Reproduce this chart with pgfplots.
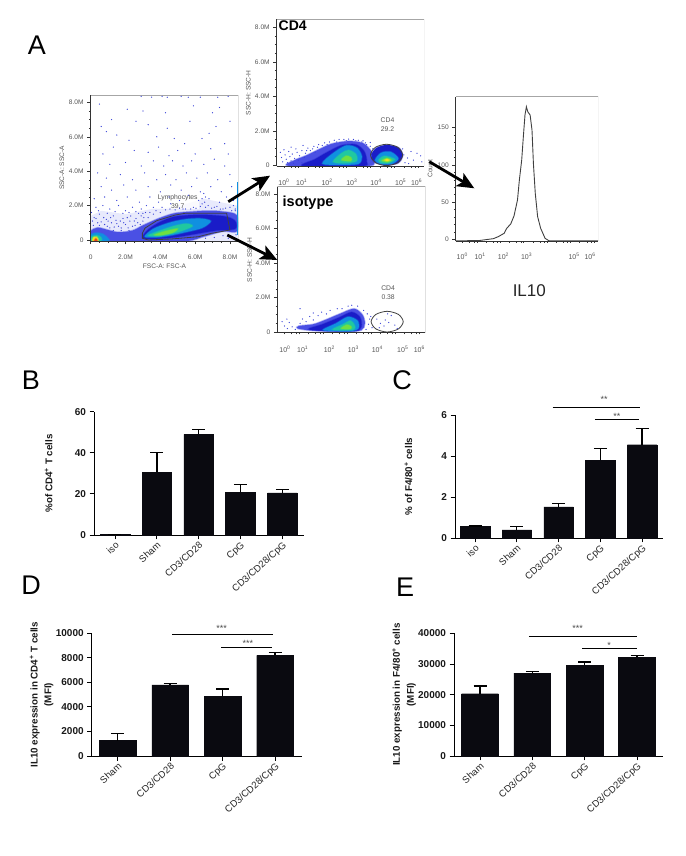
\documentclass[border=0pt]{standalone}
\usepackage{fontspec}
\setmainfont{Liberation Sans}
\usepackage{pgfplots}
\usepackage{pgfplotstable}
\pgfplotsset{compat=1.18}
\usetikzlibrary{arrows.meta}
\definecolor{barblack}{HTML}{0A0A10}
\definecolor{fa}{HTML}{B4B8F4}
\definecolor{fb}{HTML}{4A50E4}
\definecolor{fc}{HTML}{1A1CC8}
\definecolor{fd}{HTML}{1090E0}
\definecolor{fe}{HTML}{20C8A0}
\definecolor{ff}{HTML}{70E040}
\definecolor{fg}{HTML}{F0E020}
\definecolor{fh}{HTML}{E84020}
\definecolor{dot}{HTML}{3A44D8}
\definecolor{flowtext}{HTML}{555555}
\def\logminor{0.3,0.6,0.78,0.9,1.3,1.6,1.78,1.9,2.3,2.6,2.78,2.9,3.3,3.6,3.78,3.9,4.3,4.6,4.78,4.9,5.3,5.6,5.78,5.9}
\newcommand{\fsz}[1]{\fontsize{#1}{#1}\selectfont}
\pgfplotstableread{
x y e
0 0.3 0
1 30.5 9.5
2 49 2.2
3 20.7 4
4 20.5 1.5
}\tabB
\pgfplotstableread{
x y e
0 0.58 0
1 0.4 0.15
2 1.52 0.15
3 3.8 0.57
4 4.55 0.8
}\tabC
\pgfplotstableread{
x y e
0 1250 580
1 5800 100
2 4850 600
3 8200 250
}\tabD
\pgfplotstableread{
x y e
0 20300 2500
1 27000 500
2 29600 1100
3 32200 600
}\tabE
\pgfplotsset{
 flow/.style={scale only axis, axis on top, axis x line*=bottom, axis y line*=left,
  tick align=outside, major tick length=3.5pt, minor tick length=1.8pt,
  tick style={black!80,line width=.5pt}, axis line style={black!80,line width=.6pt,-},
  ticklabel style={font=\fsz{6.6},text=flowtext},
  label style={font=\fsz{6.6},text=flowtext}},
 flowdec/.style={flow, xmin=0,
  major x tick style={draw=none},
  minor xtick=\logminor,
  extra x ticks={0,1,2,3,4,5,6}, extra x tick labels={},
  extra x tick style={major tick length=3.5pt,tick style={black!80,line width=.5pt}},
  xticklabel style={font=\fsz{7},text=flowtext,anchor=center,yshift=-13pt},
  xticklabels={10\textsuperscript{0},10\textsuperscript{1},10\textsuperscript{2},10\textsuperscript{3},10\textsuperscript{4},10\textsuperscript{5},10\textsuperscript{6}}},
 ssc/.style={ytick={0,2,4,6,8},yticklabels={0,2.0M,4.0M,6.0M,8.0M},minor y tick num=3},
 dots/.style={only marks,mark=*,mark size=.36pt,color=dot,mark options={draw=none,fill=dot,fill opacity=.6}},
 layer/.style={fill=#1,draw=#1,draw opacity=.4,line width=1.5pt,smooth cycle,tension=.5,forget plot},
 gate/.style={draw=black!75,line width=.8pt,fill=none,forget plot},
 barax/.style={scale only axis, axis x line*=bottom, axis y line*=left, clip=false,
  scaled y ticks=false,
  tick align=outside, major tick length=4.5pt,
  tick style={black,line width=.9pt}, axis line style={black,line width=.9pt,-},
  /pgf/number format/assume math mode=true, /pgf/number format/1000 sep={},
  yticklabel style={font=\bfseries\fsz{10},text=black!90},
  xticklabel style={font=\fsz{9.6},text=black!85,rotate=42,anchor=north east,inner sep=1pt},
  ylabel style={font=\bfseries\fsz{9.8},text=black!90,anchor=center,align=center}},
 bars/.style={ybar,bar width=#1,bar shift=0pt,fill=barblack,draw=barblack,
  error bars/.cd,y dir=plus,y explicit,
  error bar style={black,line width=1.4pt},
  error mark options={rotate=90,mark size=6.5pt,line width=1.4pt,black}},
 sig/.style={sharp plot,black,line width=1.5pt,no marks,forget plot},
}
\newcommand{\flowframe}{\draw[black!35,line width=.7pt] (rel axis cs:0,1)--(rel axis cs:1,1)--(rel axis cs:1,0);}
\begin{document}
\begin{tikzpicture}
\path[use as bounding box] (0,0) rectangle (685pt,856pt);

% ---------- FSC / SSC ----------
\begin{axis}[flow,ssc,at={(90.7pt,615pt)},anchor=south west,width=147.6pt,height=146pt,
 xmin=0,xmax=8.48,ymin=-0.058,ymax=8.43,
 xtick={0,2,4,6,8},xticklabels={0,2.0M,4.0M,6.0M,8.0M},minor x tick num=3,
 xticklabel style={anchor=center,yshift=-13pt},
 xlabel={FSC-A: FSC-A},xlabel style={at={(axis description cs:0.5,-0.17)},anchor=center},
 ylabel={SSC-A: SSC-A},ylabel style={at={(axis description cs:-0.195,0.5)},anchor=center}]
\addplot[fill=fa,draw=none,fill opacity=.3,forget plot] coordinates {(0,-.06)(0,1.4)(.6,1.7)(2,1.5)(3.5,1.8)(5,1.95)(6.5,2.4)(8.4,2.0)(8.45,-.06)} -- cycle;
\addplot[dots] coordinates {
(.5,7.9)(1.2,7.0)(.6,6.6)(.9,6.3)(2.9,8.35)(3.5,8.3)(4.1,8.35)(4.4,8.3)(5.2,8.35)(5.6,8.3)(6.3,8.3)(7.3,8.3)(7.9,8.35)(2.1,7.6)(3.0,7.5)(4.3,7.4)(5.9,7.8)(7.0,7.4)(7.4,7.7)(2.6,6.9)
(3.3,6.7)(4.4,6.5)(5.7,6.9)(6.8,6.2)(7.2,6.6)(8.0,6.9)(1.5,6.1)(2.2,5.8)(3.8,6.0)(4.8,5.9)(5.4,5.6)(6.4,5.9)(7.7,5.6)(.7,5.0)(1.3,5.4)(2.5,5.2)(3.3,5.1)(3.9,5.4)(4.5,4.9)(5.0,5.2)
(6.0,5.0)(6.9,5.3)(7.9,5.0)(1.1,4.4)(2.0,4.5)(2.9,4.3)(3.6,4.6)(4.2,4.3)(4.7,4.6)(5.3,4.3)(5.8,4.6)(6.5,4.4)(7.1,4.7)(7.7,4.3)(.4,3.9)(.9,3.6)(1.7,3.8)(2.4,3.5)(3.1,3.9)(3.8,3.5)
(4.3,3.8)(4.9,3.5)(5.5,3.9)(6.1,3.6)(6.7,3.9)(7.3,3.5)(8.0,3.8)(.6,3.1)(1.2,2.9)(1.9,3.2)(2.6,2.9)(3.3,3.1)(4.0,2.8)(4.6,3.2)(5.2,2.9)(5.8,3.1)(6.3,2.8)(6.9,3.1)(7.5,2.8)(8.1,3.1)
(.2,2.4)(.8,2.5)(1.5,2.3)(2.1,2.5)(2.8,2.2)(3.4,2.5)(3.9,2.2)(4.5,2.5)(5.1,2.3)(5.6,2.6)(6.2,2.3)(6.5,2.7)(6.8,2.4)(7.4,2.2)(7.8,2.5)(8.2,2.3)
(.3,1.9)(.7,2.0)(1.1,1.8)(1.6,2.0)(2.0,1.7)(2.4,1.9)(2.9,1.8)(3.2,2.0)(3.6,1.9)(4.1,1.9)(4.6,2.1)(5.3,1.8)(5.9,1.9)(6.4,2.1)(6.6,1.9)(7.1,1.9)(7.6,1.8)(8.0,1.9)(8.3,1.8)
(.2,1.3)(.5,1.5)(.9,1.2)(1.3,1.4)(1.7,1.1)(2.1,1.3)(2.5,1.1)(2.9,1.4)(3.3,1.3)(3.6,1.5)(.4,1.0)(.8,.9)(1.2,1.0)(1.6,.8)(2.0,.9)(2.4,.8)(2.7,1.0)(3.0,1.1)(8.3,1.7)(8.35,.3)(8.1,.2)(7.6,.25)(7.1,.15)(6.6,.1)(7.9,.1)
(.1,1.1)(.3,1.25)(.6,1.05)(.75,1.3)(1.0,1.1)(1.15,1.3)(1.45,1.15)(1.5,.95)(1.85,1.25)(1.9,1.0)(2.25,1.1)(2.3,1.4)(2.6,1.25)(2.75,1.55)(3.05,1.3)(3.15,1.6)(3.4,1.6)(3.75,1.7)(4.0,1.6)(4.3,1.75)
(4.55,1.8)(4.85,1.75)(5.1,1.85)(5.45,1.8)(5.75,1.8)(6.05,1.85)(6.3,1.95)(6.55,2.2)(6.75,2.0)(6.95,1.85)(7.25,1.95)(7.45,1.8)(7.75,1.85)(8.1,1.7)(8.2,2.0)(6.4,2.4)(6.6,2.5)(.15,.85)(.5,.85)(.95,.8)
(1.1,.7)(1.35,.75)(1.75,.7)(2.15,.7)(2.55,.85)(2.85,.9)(1.3,.55)(1.75,.55)(2.2,.55)(.05,1.6)(.45,1.7)(.95,1.55)(1.4,1.65)(1.85,1.55)(2.2,1.6)(2.6,1.65)(3.0,1.55)};
\addplot[layer=fb] coordinates {(0,-.06)(0,.5)(.4,.72)(1,.58)(1.6,.45)(2.4,.55)(3,.85)(3.9,1.25)(4.8,1.55)(5.8,1.65)(6.8,1.7)(7.6,1.65)(8.38,1.45)(8.4,.5)(7.6,.5)(6.5,.2)(5.5,-.06)(3,-.06)};
\addplot[layer=fc] coordinates {(3,.1)(3.3,.6)(4,1.05)(4.8,1.35)(5.8,1.45)(6.8,1.45)(7.8,1.35)(8.3,1.1)(8.3,.65)(7.2,.55)(6,.35)(5,.18)(4,.08)};
\addplot[layer=fd] coordinates {(3.1,.2)(3.6,.65)(4.5,1.0)(5.4,1.2)(6.3,1.25)(6.9,1.1)(6.4,.7)(5.3,.42)(4.5,.25)(3.7,.15)};
\addplot[layer=fe] coordinates {(3.3,.27)(4,.55)(4.8,.82)(5.5,.95)(5.85,.8)(5.1,.48)(4.4,.32)(3.8,.22)};
\addplot[layer=ff] coordinates {(3.65,.3)(4.3,.52)(5,.66)(4.7,.42)(4,.27)};
\addplot[layer=fb] coordinates {(0,-.06)(0,.45)(.35,.6)(.85,.5)(1.3,.15)(1.3,-.06)};
\addplot[layer=fd] coordinates {(0,-.06)(0,.3)(.3,.42)(.7,.35)(1,.1)(1,-.06)};
\addplot[layer=fe] coordinates {(.05,-.06)(.05,.2)(.35,.28)(.6,.15)(.6,-.06)};
\addplot[layer=fg] coordinates {(.1,-.06)(.15,.15)(.35,.18)(.45,-.06)};
\addplot[layer=fh] coordinates {(.2,-.06)(.3,.09)(.38,-.06)};
\addplot[sharp plot,color=fd,line width=1pt,no marks,forget plot] coordinates {(8.43,.3)(8.43,3.4)};
\addplot[gate] coordinates {(2.97,.39)(3.12,.69)(3.79,1.12)(4.85,1.45)(5.42,1.55)(7.81,1.55)(8.0,.58)(6.95,.39)(6.18,.19)(4.65,.06)(3.31,0)(2.97,.1)} -- cycle;
\node[font=\fsz{6.8},text=flowtext,align=center,inner sep=1pt,fill=white,fill opacity=.75,text opacity=1] at (axis cs:5.0,2.25) {Lymphocytes\\[1.8pt]39.7};
\flowframe
\end{axis}

% ---------- CD4 ----------
\begin{axis}[flowdec,ssc,at={(276.7pt,690pt)},anchor=south west,width=147.3pt,height=146.7pt,
 xmax=6.14,ymin=-0.04,ymax=8.46,
 xtick={.3,1.04,2.1,3.13,4.14,5.17,5.83},
 ylabel={SSC-H: SSC-H},ylabel style={at={(axis description cs:-0.193,0.5)},anchor=center}]
\addplot[dots] coordinates {
(.15,.75)(.2,.45)(.25,.2)(.35,.6)(.4,.35)(.45,.15)(.5,.8)(.55,.5)(.6,.25)(.65,.65)(.7,.12)(.75,.4)(.85,.75)(.9,.3)(.95,.55)(1.05,.15)(1.05,.85)(1.15,.45)(1.2,.7)(1.3,1.0)
(1.4,.85)(1.55,1.1)(1.6,.75)(1.75,1.2)(1.9,1.15)(2.0,1.3)(2.2,1.35)(2.4,1.45)(2.6,1.5)(2.8,1.5)(3.0,1.52)(3.2,1.5)(3.4,1.45)(3.6,1.42)(3.75,1.2)(3.9,1.1)(4.0,.95)(3.95,.55)(5.3,.6)(5.45,.42)
(5.6,.8)(5.7,.3)(5.85,.7)(6.0,.55)(5.25,.95)(5.35,.15)(5.5,.1)(6.05,.2)(3.9,1.32)(1.1,1.15)(.6,1.05)(.3,.9)(.8,.95)(1.25,.85)(1.5,.95)(1.7,1.05)(2.1,1.2)(2.5,1.35)(2.9,1.42)(3.3,1.42)(3.55,1.35)(3.7,1.3)};
\addplot[layer=fb] coordinates {(.55,-.04)(.75,.3)(1.2,.55)(1.8,.95)(2.3,1.25)(3,1.4)(3.6,1.28)(3.95,.8)(4.0,.3)(3.8,-.04)};
\addplot[layer=fc] coordinates {(1.1,-.04)(1.6,.35)(2.1,.75)(2.7,1.15)(3.3,1.2)(3.65,.8)(3.75,.2)(3.55,-.04)};
\addplot[layer=fd] coordinates {(1.9,.1)(2.35,.7)(2.9,1.15)(3.35,1.0)(3.55,.5)(3.4,.08)(2.6,.03)};
\addplot[layer=fe] coordinates {(2.35,.2)(2.7,.7)(3.0,.88)(3.3,.65)(3.33,.25)(2.9,.12)};
\addplot[layer=ff] coordinates {(2.7,.3)(2.9,.55)(3.1,.45)(3.1,.25)};
\addplot[layer=fc] coordinates {(3.95,.6)(4.15,1.0)(4.6,1.18)(5.1,1.0)(5.25,.55)(5.05,.12)(4.5,.02)(4.05,.2)};
\addplot[layer=fd] coordinates {(4.1,.3)(4.35,.72)(4.75,.78)(5.07,.4)(4.8,.08)(4.3,.08)};
\addplot[layer=fe] coordinates {(4.24,.3)(4.5,.54)(4.93,.35)(4.65,.12)(4.35,.14)};
\addplot[layer=ff] coordinates {(4.38,.28)(4.6,.42)(4.8,.3)(4.6,.18)};
\addplot[layer=fg] coordinates {(4.5,.3)(4.6,.36)(4.7,.3)(4.6,.25)};
\addplot[gate,smooth cycle] coordinates {(5.25,.6)(5.05,1.04)(4.58,1.22)(4.11,1.04)(3.91,.6)(4.11,.16)(4.58,-.02)(5.05,.16)};
\node[font=\fsz{6.8},text=flowtext,align=center,inner sep=0pt] at (axis cs:4.62,2.35) {CD4\\[1.6pt]29.2};
\flowframe
\end{axis}

% ---------- isotype ----------
\begin{axis}[flowdec,ssc,at={(277.3pt,523.3pt)},anchor=south west,width=148pt,height=146pt,
 xmax=6.17,ymin=-0.04,ymax=8.42,
 xtick={.32,1.06,2.17,3.17,4.17,5.23,5.92},
 ylabel={SSC-H: SSC-H},ylabel style={at={(axis description cs:-0.187,0.5)},anchor=center}]
\addplot[dots] coordinates {
(.2,.6)(.3,.35)(.42,.2)(.5,.55)(.62,.3)(.75,.15)(.4,.75)(.95,.5)(1.05,.75)(1.2,.6)(1.35,.9)(1.5,.7)(1.7,.95)(1.85,1.15)(2.05,1.05)(2.2,1.25)(.95,1.35)(1.5,1.1)(2.5,1.35)(2.7,1.35)
(2.95,1.5)(3.1,1.55)(3.35,1.5)(3.6,1.25)(3.75,1.05)(3.85,.75)(3.8,.45)(3.95,.25)(3.7,.15)(3.9,.9)(4.15,.75)(4.3,.5)(4.45,.35)(4.5,.7)(4.65,.55)(4.75,.95)(4.9,.4)(4.6,1.05)(4.25,.25)(5.0,.2)};
\addplot[layer=fb] coordinates {(.85,.2)(.9,.35)(1.5,.45)(2.0,.7)(2.6,1.05)(3.2,1.35)(3.55,1.0)(3.65,.5)(3.5,.1)(2.8,.04)(1.5,.08)};
\addplot[layer=fc] coordinates {(1.3,.16)(1.9,.45)(2.6,.85)(3.1,1.15)(3.45,.85)(3.5,.3)(3.25,.06)(2.2,.05)};
\addplot[layer=fd] coordinates {(1.9,.12)(2.45,.5)(2.95,.88)(3.35,.65)(3.38,.2)(3.1,.06)(2.5,.06)};
\addplot[layer=fe] coordinates {(2.3,.15)(2.75,.45)(3.05,.66)(3.22,.4)(3.2,.15)(2.75,.1)};
\addplot[layer=ff] coordinates {(2.65,.2)(2.9,.42)(3.08,.32)(3.05,.18)};
\addplot[gate,smooth cycle] coordinates {(5.25,.6)(5.05,1.02)(4.58,1.2)(4.11,1.02)(3.91,.6)(4.11,.18)(4.58,0)(5.05,.18)};
\node[font=\fsz{6.8},text=flowtext,align=center,inner sep=0pt] at (axis cs:4.62,2.28) {CD4\\[1.6pt]0.38};
\flowframe
\end{axis}

% ---------- histogram ----------
\begin{axis}[flowdec,at={(455.7pt,615pt)},anchor=south west,width=142.3pt,height=144.3pt,
 xmax=6.08,ymin=-2.24,ymax=191.7,
 xtick={.28,1.04,2.04,3.03,5.06,5.74},
 xticklabels={10\textsuperscript{0},10\textsuperscript{1},10\textsuperscript{2},10\textsuperscript{3},10\textsuperscript{5},10\textsuperscript{6}},
 xticklabel style={yshift=1pt},
 ytick={0,50,100,150},yticklabels={0,50,100,150},minor y tick num=4,
 ylabel={Count},ylabel style={at={(axis description cs:-0.18,0.5)},anchor=center}]
\addplot[sharp plot,black!75,line width=.9pt,no marks] coordinates {
(0,-1.9)(.97,-1.8)(1.18,-.9)(1.61,.9)(1.82,3.6)(2.07,8.1)(2.18,14.8)(2.35,20.6)(2.49,31.3)(2.64,52.8)(2.72,79.7)(2.82,106.6)(2.89,137.9)(2.96,167)(3.02,178.2)(3.08,171.5)(3.18,167)(3.26,146.9)(3.32,102.1)(3.40,61.8)(3.50,30.5)(3.63,14.8)(3.82,1.3)(3.99,-2)(6.08,-2)};
\flowframe
\end{axis}

% ---------- B ----------
\begin{axis}[barax,at={(94pt,321pt)},anchor=south west,width=210pt,height=123.3pt,
 xmin=-.502,xmax=4.52,ymin=0,ymax=60,ytick={0,20,40,60},
 xtick={0,1,2,3,4},xticklabels={iso,Sham,CD3/CD28,CpG,CD3/CD28/CpG},
 ylabel={\%of CD4\textsuperscript{+} T cells},ylabel style={at={(axis description cs:-0.216,0.5)}}]
\addplot[bars=29.5pt] table[x=x,y=y,y error=e] {\tabB};
\end{axis}

% ---------- C ----------
\begin{axis}[barax,at={(455pt,318pt)},anchor=south west,width=208pt,height=123pt,
 xmin=-.479,xmax=4.503,ymin=0,ymax=6,ytick={0,2,4,6},
 xtick={0,1,2,3,4},xticklabels={iso,Sham,CD3/CD28,CpG,CD3/CD28/CpG},
 ylabel={\% of F4/80\textsuperscript{+} cells},ylabel style={at={(axis description cs:-0.224,0.5)}}]
\addplot[bars=29.5pt] table[x=x,y=y,y error=e] {\tabC};
\addplot[sig] coordinates {(1.861,6.37)(3.952,6.37)};
\addplot[sig] coordinates {(2.874,5.79)(3.921,5.79)};
\node[font=\fsz{9},text=black!70] at (axis cs:3.09,6.75) {**};
\node[font=\fsz{9},text=black!70] at (axis cs:3.40,5.93) {**};
\end{axis}

% ---------- D ----------
\begin{axis}[barax,at={(91.7pt,100pt)},anchor=south west,width=210pt,height=122.7pt,
 xmin=-.496,xmax=3.508,ymin=0,ymax=10000,ytick={0,2000,4000,6000,8000,10000},
 xtick={0,1,2,3},xticklabels={Sham,CD3/CD28,CpG,CD3/CD28/CpG},
 ylabel={IL10 expression in CD4\textsuperscript{+} T cells\\[4pt](MFI)},ylabel style={at={(axis description cs:-0.238,0.5)}}]
\addplot[bars=36.7pt] table[x=x,y=y,y error=e] {\tabD};
\addplot[sig] coordinates {(1.041,9918)(2.955,9918)};
\addplot[sig] coordinates {(1.970,8860)(2.936,8860)};
\node[font=\fsz{9},text=black!70] at (axis cs:1.983,10400) {***};
\node[font=\fsz{9},text=black!70] at (axis cs:2.484,9150) {***};
\end{axis}

% ---------- E ----------
\begin{axis}[barax,at={(454pt,100pt)},anchor=south west,width=209pt,height=122.7pt,
 xmin=-.497,xmax=3.497,ymin=0,ymax=40000,ytick={0,10000,20000,30000,40000},
 xtick={0,1,2,3},xticklabels={Sham,CD3/CD28,CpG,CD3/CD28/CpG},
 ylabel={IL10 expression in F4/80\textsuperscript{+} cells\\[4pt](MFI)},ylabel style={at={(axis description cs:-0.239,0.5)}}]
\addplot[bars=36.7pt] table[x=x,y=y,y error=e] {\tabE};
\addplot[sig] coordinates {(.936,39000)(2.994,39000)};
\addplot[sig] coordinates {(1.949,35000)(2.994,35000)};
\node[font=\fsz{9},text=black!70] at (axis cs:1.867,41600) {***};
\node[font=\fsz{9},text=black!70] at (axis cs:2.465,35950) {*};
\end{axis}

% ---------- texts and arrows ----------
\node[font=\fsz{27}] at (37pt,811pt) {A};
\node[font=\fsz{27}] at (31pt,475.3pt) {B};
\node[font=\fsz{27}] at (402pt,475.3pt) {C};
\node[font=\fsz{27}] at (31pt,271pt) {D};
\node[font=\fsz{27}] at (405pt,269pt) {E};
\node[font=\bfseries\fsz{14},anchor=west,inner sep=0pt] at (278.5pt,830.3pt) {CD4};
\node[font=\bfseries\fsz{14.5},anchor=west,inner sep=0pt] at (282.5pt,653.3pt) {isotype};
\node[font=\fsz{17},text=black!85] at (529.3pt,565.3pt) {IL10};
\draw[line width=2.8pt,-{Stealth[length=17pt,width=15pt,inset=4pt]}] (228.3pt,654.3pt) -- (270pt,680.3pt);
\draw[line width=2.8pt,-{Stealth[length=17pt,width=15pt,inset=4pt]}] (227.3pt,621pt) -- (277.3pt,596pt);
\draw[line width=2.8pt,-{Stealth[length=17pt,width=15pt,inset=4pt]}] (429.3pt,694.3pt) -- (474.3pt,667.7pt);
\end{tikzpicture}
\end{document}
